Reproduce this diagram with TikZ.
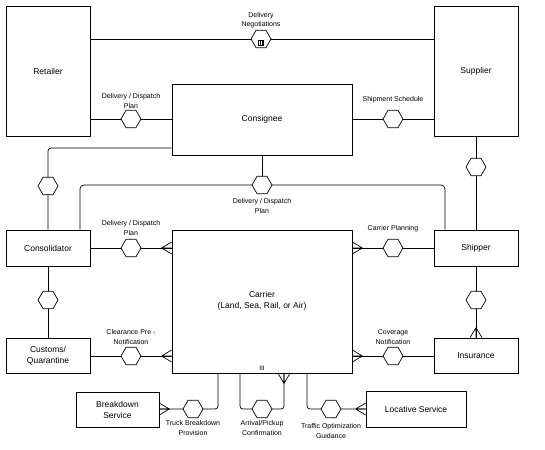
\documentclass[tikz,border=0pt]{standalone}
\usepackage{fontspec}
\setmainfont{Liberation Sans}
\usetikzlibrary{shapes.geometric}
\begin{document}
\begin{tikzpicture}[x=1pt,y=-1pt,
  box/.style={draw, line width=0.7pt, align=center, font=\fontsize{8.5}{11}\selectfont, inner sep=1pt},
  hexa/.style={draw, line width=0.7pt, fill=white, regular polygon, regular polygon sides=6, minimum size=20pt, inner sep=0pt},
  lbl/.style={align=center, font=\fontsize{7}{9.5}\selectfont, inner sep=0pt},
  conn/.style={line width=0.7pt},
  crow/.pic={\draw[line width=0.7pt] (-10,0) -- (0,-6) (-10,0) -- (0,0) (-10,0) -- (0,6);}
]
\useasboundingbox (0,0) rectangle (545,449);
\fill[white] (0,0) rectangle (545,449);

% boxes
\node[box, minimum width=84pt, minimum height=130pt] (ret) at (48,71) {Retailer};
\node[box, minimum width=84pt, minimum height=130pt] (sup) at (476,71) {Supplier};
\node[box, minimum width=180pt, minimum height=71pt] (con) at (262,119.5) {Consignee};
\node[box, minimum width=84pt, minimum height=36pt] (cons) at (48,248) {Consolidator};
\node[box, minimum width=84pt, minimum height=36pt] (ship) at (476,248) {Shipper};
\node[box, minimum width=180pt, minimum height=143pt] (car) at (262,301.5) {};
\node[align=center, font=\fontsize{8.5}{11.5}\selectfont] (cart) at (262,301) {Carrier\\(Land, Sea, Rail, or Air)};
\node[font=\fontsize{6.5}{7}\selectfont, inner sep=0pt] (iii) at (262,368) {III};
\node[box, minimum width=84pt, minimum height=35pt] (cus) at (48,355.5) {Customs/\\Quarantine};
\node[box, minimum width=84pt, minimum height=35pt] (ins) at (476,355.5) {Insurance};
\node[box, minimum width=83pt, minimum height=35pt] (brk) at (117.5,409.5) {Breakdown\\Service};
\node[box, minimum width=100pt, minimum height=36pt] (loc) at (416,409) {Locative Service};

% hexagon positions
\coordinate (p1) at (261,39);
\coordinate (p2) at (131,119);
\coordinate (p3) at (393,119);
\coordinate (p4) at (48,186);
\coordinate (p5) at (262,185);
\coordinate (p6) at (476,167);
\coordinate (p7) at (131,248);
\coordinate (p8) at (393,248);
\coordinate (p9) at (48,300);
\coordinate (p10) at (476,300);
\coordinate (p11) at (131,356);
\coordinate (p12) at (393,356);
\coordinate (p13) at (193,409);
\coordinate (p14) at (262,409);
\coordinate (p15) at (331,409);

% connectors
\draw[conn] (ret.east |- p1) -- (sup.west |- p1);
\draw[conn] (ret.east |- p2) -- (con.west |- p2);
\draw[conn] (con.east |- p3) -- (sup.west |- p3);
\draw[conn, rounded corners=3pt] (con.west |- 0,148) -| (cons.north);
\draw[conn] (con.south) -- (p5);
\draw[conn, rounded corners=4pt] (cons.north -| 80,0) |- (p5) -| (ship.north -| 445,0);
\draw[conn] (sup.south) -- (ship.north);
\draw[conn] (cons.east |- p7) -- (car.west |- p7);
\draw[conn] (car.east |- p8) -- (ship.west |- p8);
\draw[conn] (cons.south) -- (cus.north);
\draw[conn] (ship.south) -- (ins.north);
\draw[conn] (cus.east |- p11) -- (car.west |- p11);
\draw[conn] (car.east |- p12) -- (ins.west |- p12);
\draw[conn, rounded corners=3pt] (car.south -| 218,0) |- (brk.east |- p13);
\draw[conn, rounded corners=3pt] (car.south -| 240,0) |- (p14) -| (car.south -| 284,0);
\draw[conn, rounded corners=3pt] (car.south -| 307,0) |- (loc.west |- p15);

% crow's feet
\pic at (car.west |- p7) {crow};
\pic at (car.west |- p11) {crow};
\pic[rotate=180] at (car.east |- p8) {crow};
\pic[rotate=180] at (car.east |- p12) {crow};
\pic[rotate=-90] at (ins.north) {crow};
\pic[rotate=180] at (brk.east |- p13) {crow};
\pic[rotate=90] at (car.south -| 284,0) {crow};
\pic at (loc.west |- p15) {crow};

% hexagons
\foreach \i in {1,...,15} { \node[hexa] (h\i) at (p\i) {}; }
\draw[line width=0.5pt] ([xshift=-2.5pt,yshift=-1pt]h1.center) rectangle ([xshift=2.5pt,yshift=-6pt]h1.center);
\draw[line width=0.5pt] ([xshift=-0.8pt,yshift=-1pt]h1.center) -- ([xshift=-0.8pt,yshift=-6pt]h1.center)
  ([xshift=0.8pt,yshift=-1pt]h1.center) -- ([xshift=0.8pt,yshift=-6pt]h1.center);

% labels
\node[lbl] (l1) at (261,20) {Delivery\\Negotiations};
\node[lbl] (l2) at (131,101) {Delivery / Dispatch\\Plan};
\node[lbl] (l3) at (393,100) {Shipment Schedule};
\node[lbl] (l5) at (262,206) {Delivery / Dispatch\\Plan};
\node[lbl] (l7) at (131,228) {Delivery / Dispatch\\Plan};
\node[lbl] (l8) at (393,229) {Carrier Planning};
\node[lbl] (l11) at (131,337) {Clearance Pre -\\Notification};
\node[lbl] (l12) at (393,337) {Coverage\\Notification};
\node[lbl] (l13) at (193,428) {Truck Breakdown\\Provision};
\node[lbl] (l14) at (262,428) {Arrival/Pickup\\Confirmation};
\node[lbl] (l15) at (331,431) {Traffic Optimization\\Guidance};
\end{tikzpicture}
\end{document}
